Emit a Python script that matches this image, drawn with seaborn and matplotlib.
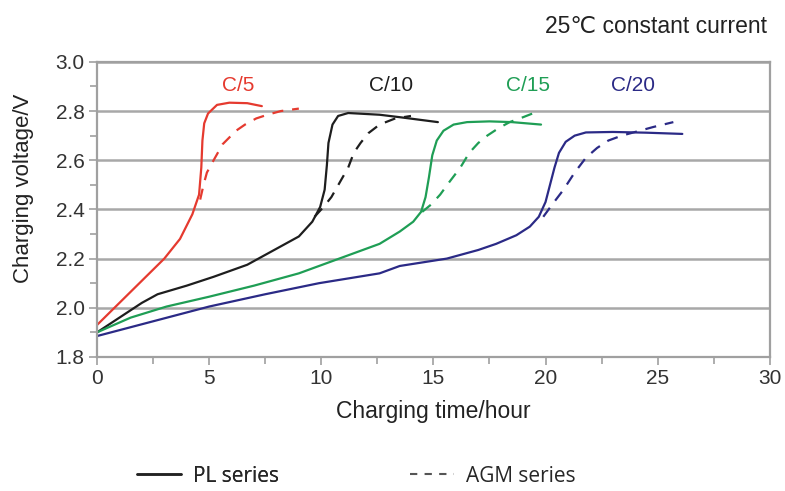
import numpy as np
import pandas as pd
import matplotlib.pyplot as plt
import seaborn as sns
from matplotlib.lines import Line2D

# --- data (time in hours, voltage in V) ---
c5_pl_t = [0, 1.0, 2.0, 3.0, 3.7, 4.25, 4.55, 4.65, 4.7, 4.78, 4.95, 5.35, 5.9, 6.7, 7.35]
c5_pl_v = [1.93, 2.02, 2.11, 2.20, 2.28, 2.38, 2.46, 2.57, 2.68, 2.75, 2.79, 2.825, 2.834, 2.832, 2.82]
c5_agm_t = [4.6, 4.75, 4.9, 5.2, 5.6, 6.2, 6.6, 7.1, 7.6, 8.2, 9.0]
c5_agm_v = [2.44, 2.50, 2.55, 2.60, 2.665, 2.72, 2.745, 2.77, 2.785, 2.80, 2.81]

c10_pl_t = [0, 1.0, 2.0, 2.7, 4.0, 5.2, 6.7, 8.2, 9.0, 9.6, 9.95, 10.15, 10.25, 10.32, 10.5, 10.75, 11.2, 12.6, 13.5, 15.2]
c10_pl_v = [1.90, 1.96, 2.02, 2.055, 2.09, 2.126, 2.175, 2.25, 2.29, 2.35, 2.41, 2.48, 2.58, 2.67, 2.745, 2.78, 2.792, 2.785, 2.775, 2.755]
c10_agm_t = [9.7, 10.1, 10.45, 10.7, 10.95, 11.2, 11.45, 11.75, 12.1, 12.6, 13.3, 14.0]
c10_agm_v = [2.37, 2.41, 2.45, 2.49, 2.53, 2.57, 2.63, 2.67, 2.71, 2.745, 2.77, 2.78]

c15_pl_t = [0, 1.5, 3.1, 5.0, 7.0, 9.0, 11.1, 12.6, 13.5, 14.1, 14.45, 14.65, 14.8, 14.95, 15.15, 15.45, 15.9, 16.5, 17.5, 18.5, 19.8]
c15_pl_v = [1.90, 1.96, 2.005, 2.045, 2.09, 2.14, 2.21, 2.26, 2.31, 2.35, 2.39, 2.45, 2.53, 2.62, 2.68, 2.72, 2.745, 2.755, 2.758, 2.755, 2.745]
c15_agm_t = [14.5, 14.9, 15.3, 15.7, 16.2, 16.6, 17.0, 17.4, 17.9, 18.4, 19.0, 19.7]
c15_agm_v = [2.39, 2.42, 2.46, 2.51, 2.57, 2.63, 2.67, 2.70, 2.73, 2.755, 2.775, 2.80]

c20_pl_t = [0, 2.5, 5.0, 7.5, 9.9, 12.6, 13.5, 15.6, 17.0, 17.8, 18.7, 19.3, 19.7, 20.0, 20.2, 20.4, 20.6, 20.9, 21.3, 21.8, 23.0, 24.5, 26.1]
c20_pl_v = [1.885, 1.945, 2.005, 2.055, 2.10, 2.14, 2.17, 2.20, 2.235, 2.26, 2.295, 2.33, 2.37, 2.43, 2.50, 2.57, 2.63, 2.675, 2.70, 2.713, 2.715, 2.712, 2.707]
c20_agm_t = [19.9, 20.3, 20.8, 21.3, 21.8, 22.3, 22.8, 23.4, 24.0, 24.8, 25.7]
c20_agm_v = [2.37, 2.42, 2.48, 2.55, 2.61, 2.65, 2.68, 2.70, 2.715, 2.735, 2.755]

rate_labels = ["C/5", "C/10", "C/15", "C/20"]
label_t = [6.3, 13.1, 19.2, 23.9]
label_v = [2.905, 2.905, 2.905, 2.905]
colors = ["#e53a2f", "#1e1e1e", "#1f9e55", "#2b2a86"]

y_ticks = [1.8, 2.0, 2.2, 2.4, 2.6, 2.8, 3.0]
y_ticklabels = ["1.8", "2.0", "2.2", "2.4", "2.6", "2.8", "3.0"]
x_ticks = [0, 5, 10, 15, 20, 25, 30]

series = [
    (c5_pl_t, c5_pl_v, c5_agm_t, c5_agm_v),
    (c10_pl_t, c10_pl_v, c10_agm_t, c10_agm_v),
    (c15_pl_t, c15_pl_v, c15_agm_t, c15_agm_v),
    (c20_pl_t, c20_pl_v, c20_agm_t, c20_agm_v),
]

sns.set_style("white")
plt.rcParams['font.family'] = ['Liberation Sans', 'DejaVu Sans']

fig = plt.figure(figsize=(7.85, 4.91), dpi=100)
ax = fig.add_axes([0.1236, 0.273, 0.857, 0.601])

for (pt, pv, at, av), col in zip(series, colors):
    sns.lineplot(x=pt, y=pv, ax=ax, color=col, linewidth=1.6, sort=False, estimator=None)
    sns.lineplot(x=at, y=av, ax=ax, color=col, linewidth=1.6, sort=False, estimator=None)
    ax.lines[-1].set_dashes([5, 4])

for lab, tx, vy, col in zip(rate_labels, label_t, label_v, colors):
    ax.text(tx, vy, lab, color=col, fontsize=15, ha="center", va="center")

ax.set_xlim(0, 30)
ax.set_ylim(1.8, 3.0)
ax.set_xticks(x_ticks)
ax.set_xticks(np.arange(2.5, 30, 5), minor=True)
ax.set_yticks(y_ticks)
ax.set_yticklabels(y_ticklabels)
ax.set_yticks(np.arange(1.9, 3.0, 0.2), minor=True)
ax.yaxis.grid(True, color="#a8a8a8", linewidth=1.8)
ax.set_axisbelow(True)
for s in ax.spines.values():
    s.set_color("#a0a0a0")
    s.set_linewidth(1.6)
ax.tick_params(which="both", direction="out", color="#a0a0a0", width=1.2,
               labelsize=15, labelcolor="#333333", bottom=True, left=True, pad=3)
ax.tick_params(which="major", length=6)
ax.tick_params(which="minor", length=5)

ax.set_xlabel("Charging time/hour", fontsize=16.5, color="#222222", labelpad=8)
ax.set_ylabel("Charging voltage/V", fontsize=16, color="#222222")
ax.yaxis.set_label_coords(-0.094, 0.57)

fig.text(0.977, 0.947, "25\u2103 constant current", fontsize=16.5, ha="right", va="center",
         color="#222222", family=['Liberation Sans', 'DejaVu Sans'])

leg_font = {"family": "Open Sans", "size": 15}
pl_leg = fig.legend([Line2D([0], [0], color="#222222", lw=1.8)], ["PL series"],
                    loc="center left", bbox_to_anchor=(0.1745, 0.03), frameon=False,
                    prop=leg_font, handlelength=2.1, handletextpad=0.6,
                    borderpad=0, borderaxespad=0)
fig.legend([Line2D([0], [0], color="#555555", lw=1.5, dashes=[3.5, 3.5])], ["AGM series"],
           loc="center left", bbox_to_anchor=(0.522, 0.03), frameon=False,
           prop=leg_font, handlelength=2.1, handletextpad=0.6,
           borderpad=0, borderaxespad=0)
fig.add_artist(pl_leg)

fig.savefig("out.png", dpi=100)
